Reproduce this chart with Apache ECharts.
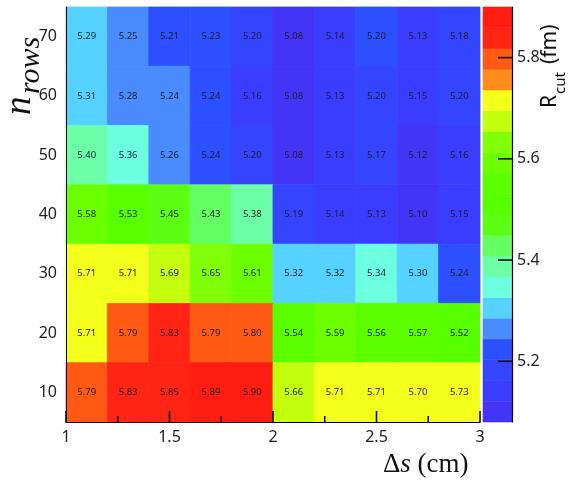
<!DOCTYPE html>
<html><head><meta charset="utf-8">
<script src="https://cdn.jsdelivr.net/npm/echarts@6/dist/echarts.min.js"></script>
<style>html,body{margin:0;padding:0;background:#fff}#c{width:570px;height:485px}</style>
</head><body><div id="c"></div>
<script>
// bin centres
const xCenters = [1.1, 1.3, 1.5, 1.7, 1.9, 2.1, 2.3, 2.5, 2.7, 2.9];
const yCenters = [70, 60, 50, 40, 30, 20, 10];
const binWidthX = 0.2;
const binWidthY = 10;
// R_cut values (fm), one array per n_rows
const row70 = [5.29, 5.25, 5.21, 5.23, 5.20, 5.08, 5.14, 5.2035, 5.13, 5.18];
const row60 = [5.31, 5.28, 5.2442, 5.24, 5.16, 5.08, 5.13, 5.20, 5.15, 5.20];
const row50 = [5.40, 5.36, 5.26, 5.24, 5.20, 5.08, 5.13, 5.17, 5.12, 5.16];
const row40 = [5.58, 5.53, 5.45, 5.43, 5.38, 5.19, 5.14, 5.13, 5.10, 5.15];
const row30 = [5.71, 5.71, 5.69, 5.65, 5.61, 5.32, 5.32, 5.34, 5.30, 5.24];
const row20 = [5.71, 5.79, 5.83, 5.79, 5.80, 5.54, 5.59, 5.56, 5.57, 5.52];
const row10 = [5.79, 5.83, 5.85, 5.89, 5.90, 5.66, 5.71, 5.71, 5.70, 5.73];
const rows = [row70, row60, row50, row40, row30, row20, row10];
// ticks
const xMajorTicks = [1, 1.5, 2, 2.5, 3];
const xMinorTicks = [1.25, 1.75, 2.25, 2.75];
const yTickValues = [10, 20, 30, 40, 50, 60, 70];
const colorbarTicks = [5.2, 5.4, 5.6, 5.8];
// colour scale
const zMin = 5.08, zMax = 5.90, nLevels = 20;
const levelColors = [
  '#4434f6', '#3a3cff', '#3444ff', '#2c50ff', '#4a8cff',
  '#55d2ff', '#6cffe0', '#6cffa8', '#64ff60', '#5cff14',
  '#58ff00', '#5cff00', '#6cff00', '#80ff08', '#c4ff10',
  '#f4ff1c', '#ff8c1c', '#ff5a14', '#ff2414', '#ff1c10'
];

const edges = [];
for (let k = 0; k <= nLevels; k++) edges.push(zMin + k * (zMax - zMin) / nLevels);
const pieces = levelColors.map((c, k) => {
  const p = { color: c };
  if (k > 0) p.gte = edges[k];
  if (k < nLevels - 1) p.lt = edges[k + 1];
  return p;
});

const cellData = [];
rows.forEach((r, i) => r.forEach((v, j) => cellData.push([xCenters[j], yCenters[i], v])));
const barData = [];
for (let k = 0; k < nLevels; k++) barData.push([edges[k], edges[k + 1], (edges[k] + edges[k + 1]) / 2]);
const cbTickData = colorbarTicks.map(v => [1, v]);
const xTickData = xMajorTicks.map(v => [v, 5, 11]).concat(xMinorTicks.map(v => [v, 5, 6]));

const chart = echarts.init(document.getElementById('c'), null, { renderer: 'canvas' });
const labelFont = '"Noto Sans", sans-serif';
chart.setOption({
  animation: false,
  backgroundColor: '#fff',
  grid: [
    { left: 66, right: 90, top: 7, bottom: 63 },
    { left: 483, right: 58, top: 7, bottom: 63 }
  ],
  xAxis: [
    {
      type: 'value', gridIndex: 0, min: 1, max: 3, interval: 0.5, z: 30,
      axisLine: { show: true, onZero: false, lineStyle: { color: '#000', width: 1.2 } },
      axisTick: { show: false },
      axisLabel: { fontSize: 16, fontFamily: labelFont, color: '#222', margin: 7 },
      splitLine: { show: false }
    },
    { type: 'value', gridIndex: 1, min: 0, max: 1, show: false }
  ],
  yAxis: [
    {
      type: 'value', gridIndex: 0, min: 5, max: 75, z: 30,
      axisLine: { show: true, onZero: false, lineStyle: { color: '#000', width: 1 } },
      axisTick: { show: false },
      axisLabel: { customValues: yTickValues, fontSize: 16, fontFamily: labelFont, color: '#222', margin: 9 },
      splitLine: { show: false }
    },
    {
      type: 'value', gridIndex: 1, min: zMin, max: zMax, position: 'right', z: 30,
      axisLine: { show: true, onZero: false, lineStyle: { color: '#000', width: 1.2 } },
      axisTick: { show: false },
      axisLabel: { customValues: colorbarTicks, formatter: v => v.toFixed(1), fontSize: 16, fontFamily: labelFont, color: '#222', margin: 5 },
      splitLine: { show: false }
    }
  ],
  visualMap: {
    type: 'piecewise', show: false, dimension: 2, seriesIndex: [0, 1], pieces: pieces
  },
  series: [
    {
      type: 'custom', xAxisIndex: 0, yAxisIndex: 0, data: cellData, z: 1,
      renderItem: (params, api) => {
        const x = api.value(0), y = api.value(1), v = api.value(2);
        const p0 = api.coord([x - binWidthX / 2, y + binWidthY / 2]);
        const p1 = api.coord([x + binWidthX / 2, y - binWidthY / 2]);
        const c = api.visual('color');
        return {
          type: 'group', children: [
            { type: 'rect', shape: { x: p0[0], y: p0[1], width: p1[0] - p0[0], height: p1[1] - p0[1] }, style: { fill: c, stroke: c, lineWidth: 0.8 } },
            { type: 'text', style: { text: v.toFixed(2), x: (p0[0] + p1[0]) / 2, y: (p0[1] + p1[1]) / 2, align: 'center', verticalAlign: 'middle', fill: '#1e1e2a', font: '9.5px "Noto Sans", sans-serif' } }
          ]
        };
      }
    },
    {
      type: 'custom', xAxisIndex: 1, yAxisIndex: 1, data: barData, z: 1,
      renderItem: (params, api) => {
        const p0 = api.coord([0, api.value(1)]);
        const p1 = api.coord([1, api.value(0)]);
        const c = api.visual('color');
        return { type: 'rect', shape: { x: p0[0], y: p0[1], width: p1[0] - p0[0], height: p1[1] - p0[1] }, style: { fill: c, stroke: c, lineWidth: 0.6 } };
      }
    },
    {
      type: 'custom', xAxisIndex: 1, yAxisIndex: 1, data: cbTickData, z: 5, silent: true,
      renderItem: (params, api) => {
        const p = api.coord([api.value(0), api.value(1)]);
        return { type: 'rect', shape: { x: p[0] - 14, y: p[1] - 0.8, width: 14, height: 1.6 }, style: { fill: '#111' } };
      }
    },
    {
      type: 'custom', xAxisIndex: 0, yAxisIndex: 0, data: xTickData, z: 5, silent: true,
      renderItem: (params, api) => {
        const p = api.coord([api.value(0), api.value(1)]);
        const len = api.value(2);
        return { type: 'rect', shape: { x: p[0] - 0.8, y: p[1] - len, width: 1.6, height: len }, style: { fill: '#111' } };
      }
    }
  ],
  graphic: [
    {
      type: 'group', x: 23, y: 115, rotation: Math.PI / 2,
      children: [
        { type: 'text', x: 0, y: -3, style: { text: 'n', font: 'italic 37px "Liberation Serif", serif', fill: '#111', align: 'left', verticalAlign: 'middle' } },
        { type: 'text', x: 21, y: 8, style: { text: 'rows', font: 'italic 30px "Liberation Serif", serif', fill: '#111', align: 'left', verticalAlign: 'middle' } }
      ]
    },
    {
      type: 'text', x: 383, y: 465,
      style: {
        text: '{a|Δ}{b|s}{a| (cm)}', align: 'left', verticalAlign: 'middle',
        rich: {
          a: { font: '27px "Liberation Serif", serif', fill: '#111' },
          b: { font: 'italic 27px "Liberation Serif", serif', fill: '#111' }
        }
      }
    },
    {
      type: 'group', x: 550, y: 108, rotation: Math.PI / 2,
      children: [
        { type: 'text', x: 0, y: 0, style: { text: 'R', font: '21px "Noto Sans", sans-serif', fill: '#111', align: 'left', verticalAlign: 'middle' } },
        { type: 'text', x: 14, y: 11, style: { text: 'cut', font: '15px "Noto Sans", sans-serif', fill: '#111', align: 'left', verticalAlign: 'middle' } },
        { type: 'text', x: 44, y: 0, style: { text: '(fm)', font: '21px "Noto Sans", sans-serif', fill: '#111', align: 'left', verticalAlign: 'middle' } }
      ]
    }
  ]
});
</script>
</body></html>
